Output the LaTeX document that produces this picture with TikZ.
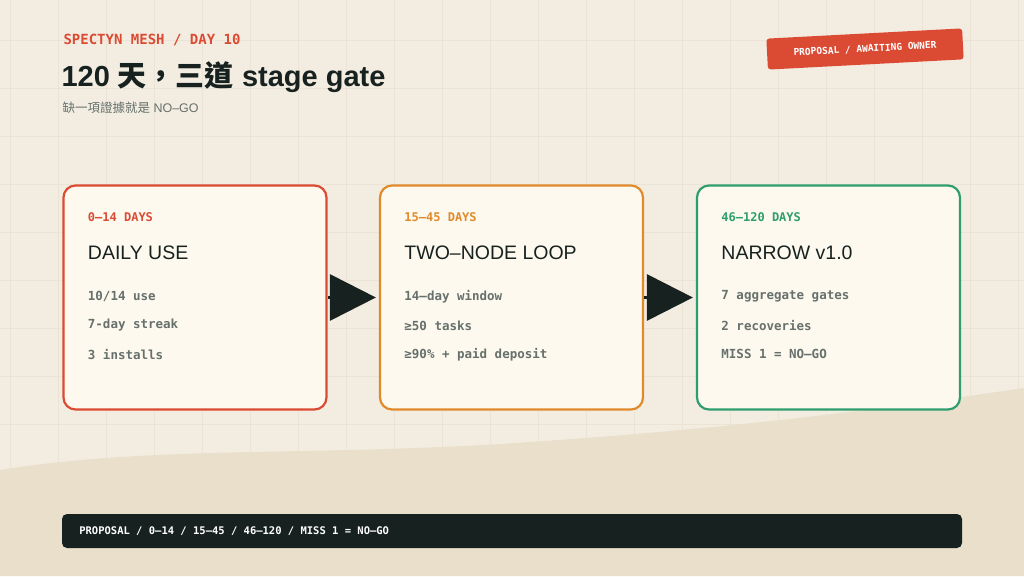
\documentclass[tikz,border=0pt]{standalone}
\usepackage{fontspec}
\setmainfont{Liberation Sans}
\setmonofont{DejaVu Sans Mono}
\newfontfamily\cjk{Noto Sans CJK TC}
\newfontfamily\cjkmed{Noto Sans CJK TC Medium}
\usetikzlibrary{positioning,arrows.meta}
\definecolor{bg}{HTML}{F3EDE1}
\definecolor{gridc}{HTML}{EBE4D6}
\definecolor{wave}{HTML}{E9DFCA}
\definecolor{ink}{HTML}{172220}
\definecolor{grey}{HTML}{66706C}
\definecolor{redc}{HTML}{DB4B34}
\definecolor{orangec}{HTML}{E08A2C}
\definecolor{greenc}{HTML}{2E9E6E}
\definecolor{card}{HTML}{FDF9EE}
\tikzset{
  stage/.style={draw=#1,line width=2.2pt,fill=card,rounded corners=12pt,
    minimum width=263pt,minimum height=224pt,inner sep=0pt},
  days/.style={font=\ttfamily\bfseries\fontsize{12}{14}\selectfont,anchor=west},
  stitle/.style={text=ink,font=\fontsize{19.5}{23}\selectfont,anchor=west},
  item/.style={text=grey,font=\ttfamily\bfseries\fontsize{12.5}{14}\selectfont,anchor=west},
  flow/.style={ink,line width=3pt,-{Triangle[length=46pt,width=46pt]},shorten >=3pt}
}
\begin{document}
\begin{tikzpicture}[x=1pt,y=1pt]
  % background and grid
  \fill[bg] (0,0) rectangle (1024,576);
  \useasboundingbox (0,0) rectangle (1024,576);
  \foreach \i in {0,...,21} {
    \draw[gridc,line width=0.6pt] (\i*48+10,0) -- (\i*48+10,576);
  }
  \foreach \j in {0,...,12} {
    \draw[gridc,line width=0.6pt] (0,\j*48+8) -- (1024,\j*48+8);
  }
  \fill[wave] (0,106) .. controls (150,130) and (300,120) .. (500,132)
    .. controls (750,148) and (900,170) .. (1024,188) -- (1024,0) -- (0,0) -- cycle;
  % header
  \node[anchor=west,text=redc,font=\ttfamily\bfseries\fontsize{14}{16}\selectfont] (kicker) at (60,536) {SPECTYN MESH / DAY 10};
  \node[anchor=west,text=ink,font=\bfseries\fontsize{29}{33}\selectfont] (head) at (58,499) {120 {\cjkmed 天，三道} stage gate};
  \node[anchor=west,text=grey,font=\fontsize{12.5}{14}\selectfont] (sub) at (59,468) {{\cjk 缺一項證據就是} NO–GO};
  \node[fill=redc,text=white,rounded corners=3pt,rotate=3,minimum width=196pt,minimum height=31pt,
    font=\ttfamily\bfseries\fontsize{9.5}{11}\selectfont] (badge) at (865,527) {PROPOSAL / AWAITING OWNER};
  % stages
  \node[stage=redc] (use) at (195,278.5) {};
  \node[stage=orangec] (loop) at (511.5,278.5) {};
  \node[stage=greenc] (narrow) at (828.5,278.5) {};
  \foreach \n/\c/\d/\t/\a/\b/\e in {
      use/redc/0–14 DAYS/DAILY USE/10\slash14 use/7-day streak/3 installs,
      loop/orangec/15–45 DAYS/TWO–NODE LOOP/14–day window/≥50 tasks/≥90\% + paid deposit,
      narrow/greenc/46–120 DAYS/NARROW v1.0/7 aggregate gates/2 recoveries/MISS 1 = NO–GO} {
    \node[days,text=\c] at ([xshift=22pt,yshift=-33pt]\n.north west) {\d};
    \node[stitle] at ([xshift=22pt,yshift=-68pt]\n.north west) {\t};
    \node[item] at ([xshift=22pt,yshift=-112pt]\n.north west) {\a};
    \node[item] at ([xshift=22pt,yshift=-141pt]\n.north west) {\b};
    \node[item] at ([xshift=22pt,yshift=-170pt]\n.north west) {\e};
  }
  \draw[flow] (use) -- (loop);
  \draw[flow] (loop) -- (narrow);
  % footer
  \node[fill=ink,rounded corners=5pt,minimum width=900pt,minimum height=34pt] (bar) at (512,45) {};
  \node[anchor=west,text=white,font=\ttfamily\bfseries\fontsize{10.5}{12}\selectfont] (bartext) at ([xshift=14pt]bar.west) {PROPOSAL / 0–14 / 15–45 / 46–120 / MISS 1 = NO–GO};
\end{tikzpicture}
\end{document}
